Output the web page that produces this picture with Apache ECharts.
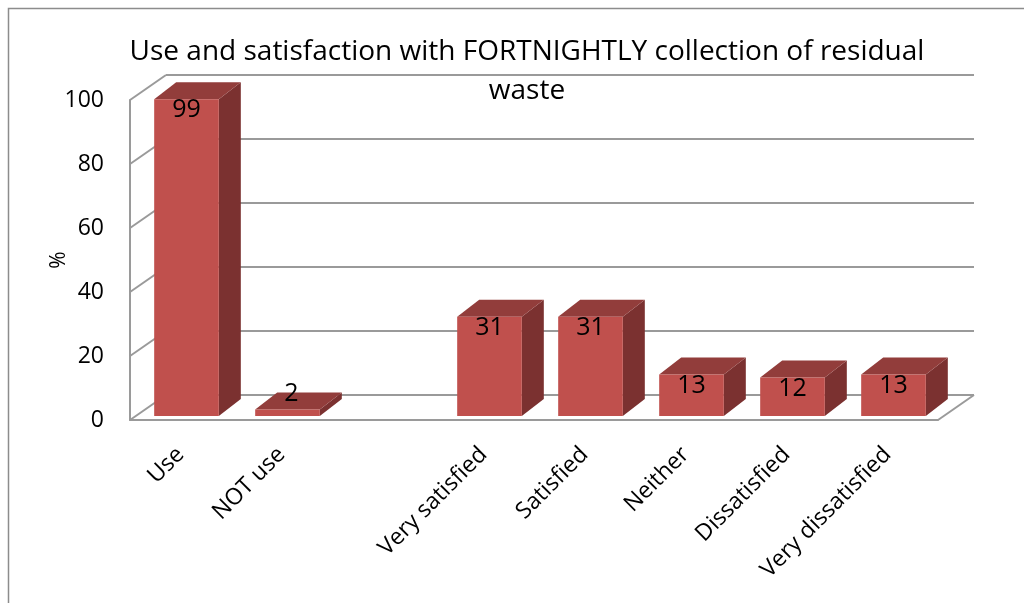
<!DOCTYPE html>
<html>
<head>
<meta charset="utf-8">
<script src="https://cdn.jsdelivr.net/npm/echarts@6/dist/echarts.min.js"></script>
<style>
  html, body { margin: 0; padding: 0; background: #fff; }
  #chart { width: 1024px; height: 603px; }
</style>
</head>
<body>
<div id="chart"></div>
<script>
const categories = ['Use', 'NOT use', '', 'Very satisfied', 'Satisfied', 'Neither', 'Dissatisfied', 'Very dissatisfied'];
const values = [99, 2, null, 31, 31, 13, 12, 13];
const yTicks = [0, 20, 40, 60, 80, 100];

const FONT = '"Open Sans", "Noto Sans", sans-serif';
const WALL = [36, -25];     // depth of the walls
const SHIFT = [6, -4];      // bars sit a bit behind the front plane
const DEPTH = [22, -17];    // depth of each bar
const LINE = '#9a9a9a';

function bar3d(params, api) {
  const i = api.value(0), v = api.value(1);
  if (v == null || isNaN(v)) return;
  const band = api.size([1, 0])[0];
  const w = band * 0.64;
  const top = api.coord([i, v]);
  const base = api.coord([i, 0]);
  const x0 = top[0] - w / 2 + SHIFT[0], x1 = x0 + w;
  const yt = top[1] + SHIFT[1], yb = base[1] + SHIFT[1];
  const dx = DEPTH[0], dy = DEPTH[1];
  const short = yb - yt < 16;
  return {
    type: 'group',
    children: [
      { type: 'polygon', shape: { points: [[x1, yt], [x1 + dx, yt + dy], [x1 + dx, yb + dy], [x1, yb]] },
        style: { fill: '#7b3130' } },
      { type: 'polygon', shape: { points: [[x0, yt], [x0 + dx, yt + dy], [x1 + dx, yt + dy], [x1, yt]] },
        style: { fill: '#923d3b' } },
      { type: 'rect', shape: { x: x0, y: yt, width: w, height: yb - yt },
        style: { fill: '#c0504d' } },
      { type: 'text', x: (x0 + x1) / 2 + (short ? 4 : 0), y: short ? yt - 16 : yt + 11,
        style: { text: String(v), font: '25px ' + FONT, fill: '#000', align: 'center', verticalAlign: 'middle' } }
    ]
  };
}

function walls(params, api) {
  const v = api.value(1);
  const band = api.size([1, 0])[0];
  const p = api.coord([0, v]);
  const x = p[0] - band / 2;
  const children = [
    { type: 'line', shape: { x1: x, y1: p[1], x2: x + WALL[0], y2: p[1] + WALL[1] },
      style: { stroke: LINE, lineWidth: 2 } }
  ];
  if (v === 0) {
    const r = api.coord([categories.length - 1, 0])[0] + band / 2;
    children.push({ type: 'line', shape: { x1: r, y1: p[1], x2: r + WALL[0], y2: p[1] + WALL[1] },
      style: { stroke: LINE, lineWidth: 2 } });
  }
  return { type: 'group', children: children };
}

const chart = echarts.init(document.getElementById('chart'));
chart.setOption({
  animation: false,
  title: {
    text: 'Use and satisfaction with FORTNIGHTLY collection of residual\nwaste',
    left: 522, top: 28, textAlign: 'center',
    textStyle: { fontFamily: FONT, fontSize: 28, fontWeight: 'normal', color: '#000', lineHeight: 39 }
  },
  graphic: [{
    type: 'rect', shape: { x: 8.5, y: 8.5, width: 1100, height: 700 },
    style: { fill: 'none', stroke: '#8c8c8c', lineWidth: 1.5 }, silent: true, z: -10
  }],
  grid: [
    { left: 130, top: 100, width: 808, height: 320 },
    { left: 130 + WALL[0], top: 100 + WALL[1], width: 808, height: 320 }
  ],
  xAxis: [
    { type: 'category', data: categories, gridIndex: 0,
      axisLine: { lineStyle: { color: LINE, width: 2 } }, axisTick: { show: false },
      axisLabel: { rotate: 45, margin: 31, interval: 0, fontFamily: FONT, fontSize: 23, color: '#000' } },
    { type: 'category', data: categories, gridIndex: 1,
      axisLine: { show: false }, axisTick: { show: false }, axisLabel: { show: false } }
  ],
  yAxis: [
    { type: 'value', gridIndex: 0, min: 0, max: 100, interval: 20,
      name: '%', nameLocation: 'middle', nameGap: 60, nameRotate: 90, nameMoveOverlap: false,
      nameTextStyle: { fontFamily: FONT, fontSize: 21, color: '#000' },
      axisLine: { show: true, lineStyle: { color: LINE, width: 2 } }, axisTick: { show: false },
      splitLine: { show: false },
      axisLabel: { margin: 26, fontFamily: FONT, fontSize: 23, color: '#000' } },
    { type: 'value', gridIndex: 1, min: 0, max: 100, interval: 20,
      axisLine: { show: false }, axisTick: { show: false }, axisLabel: { show: false },
      splitLine: { show: true, lineStyle: { color: LINE, width: 2 } } }
  ],
  series: [
    { type: 'custom', xAxisIndex: 0, yAxisIndex: 0, renderItem: walls, silent: true, z: 1,
      data: yTicks.map(function (t) { return [0, t]; }) },
    { type: 'custom', xAxisIndex: 0, yAxisIndex: 0, renderItem: bar3d, z: 2,
      data: values.map(function (v, i) { return [i, v]; }) }
  ]
});
</script>
</body>
</html>
